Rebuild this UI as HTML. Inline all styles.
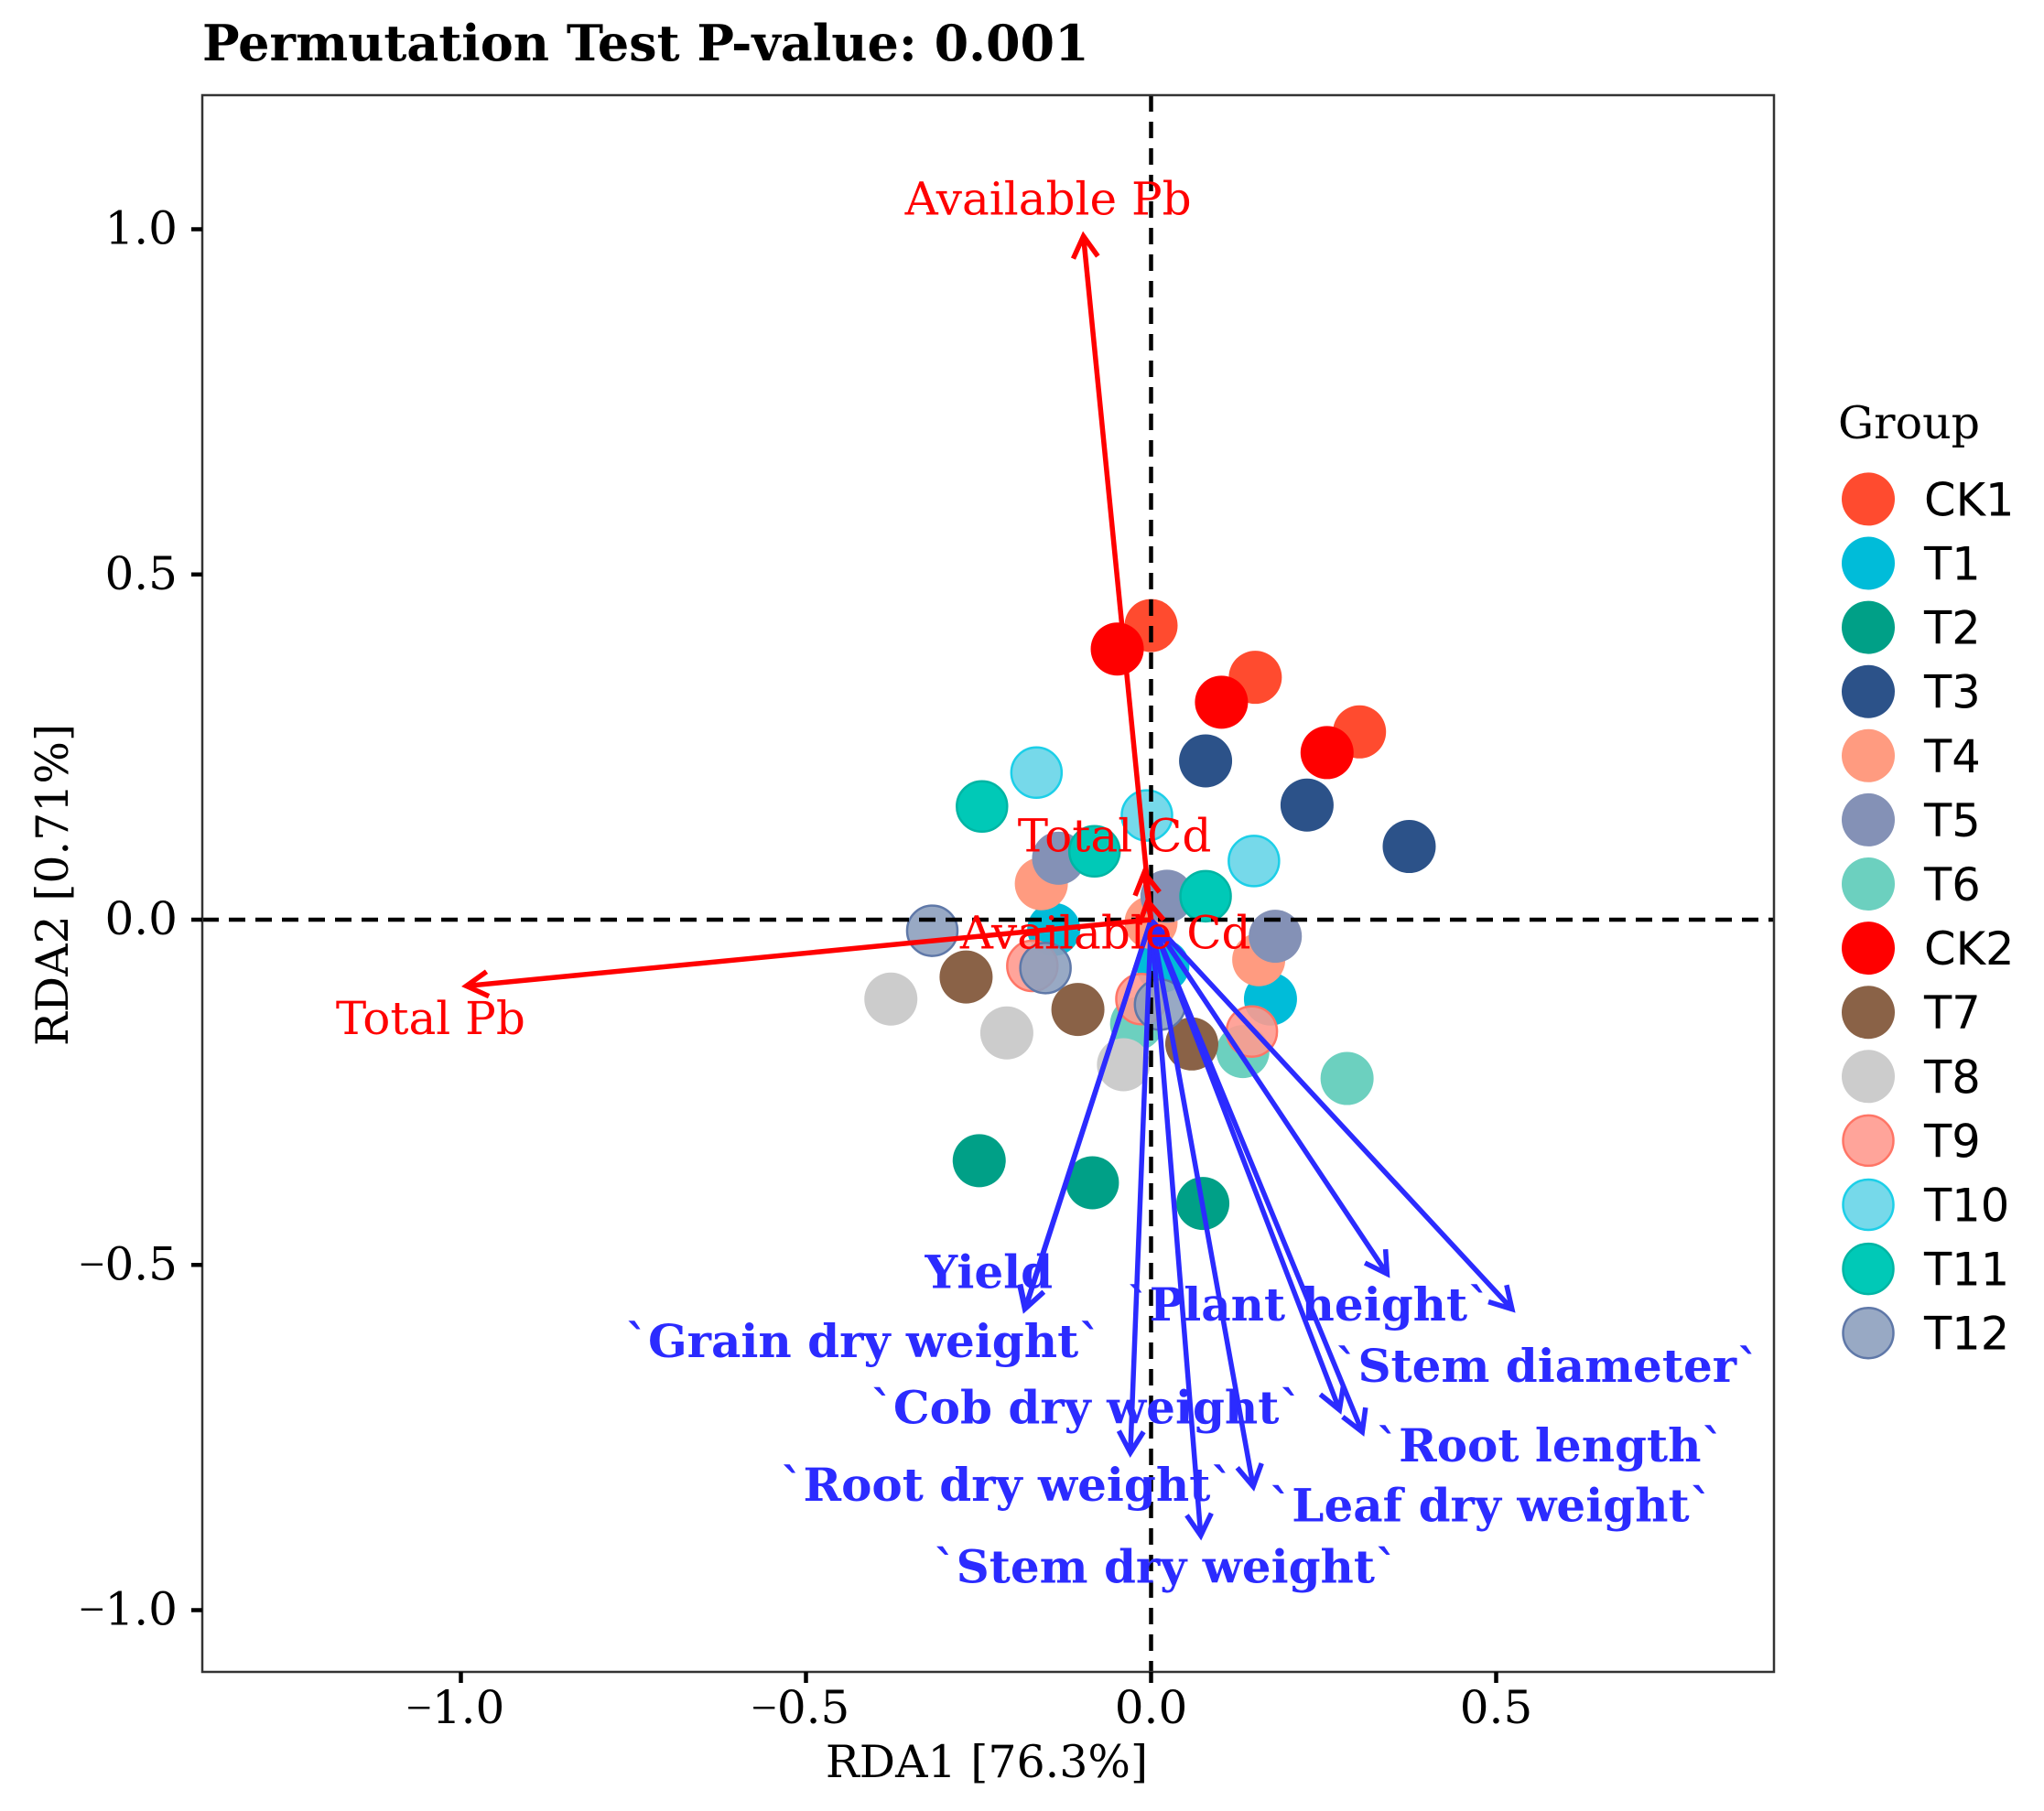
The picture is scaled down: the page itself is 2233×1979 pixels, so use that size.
<!DOCTYPE html>
<html lang="en">
<head>
<meta charset="utf-8">
<title>RDA biplot</title>
<style>
html,body{margin:0;padding:0;background:#fff;}
svg{display:block;}
text{font-family:"DejaVu Serif","Liberation Serif",serif;}
.sans{font-family:"DejaVu Sans","Liberation Sans",sans-serif;}
</style>
</head>
<body>
<svg id="chart" xmlns="http://www.w3.org/2000/svg" width="2233" height="1979" viewBox="0 0 2233 1979">
  <rect x="0" y="0" width="2233" height="1979" fill="#ffffff"/>
  <text x="221" y="66" font-size="54" font-weight="700" fill="#000">Permutation Test P-value: 0.001</text>
  <text x="1078" y="1942" font-size="49" text-anchor="middle" fill="#000">RDA1 [76.3%]</text>
  <text transform="translate(74,967) rotate(-90)" font-size="49" text-anchor="middle" fill="#000">RDA2 [0.71%]</text>
  <text x="2008" y="479" font-size="49" fill="#000">Group</text>
  <g id="points"></g>
  <g id="refs"></g>
  <g id="arrows"></g>
  <g id="labels"></g>
  <rect x="221" y="104" width="1717" height="1723" fill="none" stroke="#333333" stroke-width="2.5"/>
  <g id="ticks"></g>
  <g id="legend"></g>
</svg>
<script>
// Group categories
const groupNames = ["CK1","T1","T2","T3","T4","T5","T6","CK2","T7","T8","T9","T10","T11","T12"];

// Sample scores per group (RDA1 / RDA2)
const ck1X = [0.000, 0.151, 0.302];
const ck1Y = [0.426, 0.351, 0.272];
const t1X = [-0.141, 0.017, 0.173];
const t1Y = [-0.014, -0.067, -0.115];
const t2X = [-0.249, -0.085, 0.075];
const t2Y = [-0.349, -0.381, -0.411];
const t3X = [0.079, 0.226, 0.374];
const t3Y = [0.230, 0.166, 0.106];
const t4X = [-0.159, 0.000, 0.156];
const t4Y = [0.052, -0.004, -0.058];
const t5X = [-0.134, 0.023, 0.180];
const t5Y = [0.089, 0.034, -0.024];
const t6X = [-0.021, 0.133, 0.284];
const t6Y = [-0.151, -0.191, -0.230];
const ck2X = [-0.049, 0.102, 0.255];
const ck2Y = [0.392, 0.315, 0.242];
const t7X = [-0.268, -0.106, 0.059];
const t7Y = [-0.083, -0.130, -0.180];
const t8X = [-0.377, -0.209, -0.040];
const t8Y = [-0.115, -0.164, -0.210];
const t9X = [-0.172, -0.014, 0.146];
const t9Y = [-0.067, -0.115, -0.162];
const t10X = [-0.166, -0.006, 0.149];
const t10Y = [0.213, 0.151, 0.085];
const t11X = [-0.245, -0.082, 0.079];
const t11Y = [0.164, 0.099, 0.034];
const t12X = [-0.317, -0.153, 0.013];
const t12Y = [-0.016, -0.070, -0.123];

// Environmental loadings (red)
const envNames = ["Available Pb","Total Cd","Available Cd","Total Pb"];
const envX = [-0.098, -0.010, -0.005, -0.992];
const envY = [0.990, 0.068, 0.027, -0.096];
const envLabelX = [-0.149, -0.053, -0.066, -1.044];
const envLabelY = [1.042, 0.119, -0.021, -0.145];

// Trait loadings (blue)
const traitNames = ["Yield","`Grain dry weight`","`Cob dry weight`","`Root dry weight`","`Stem dry weight`","`Leaf dry weight`","`Root length`","`Stem diameter`","`Plant height`"];
const traitX = [-0.183, -0.182, -0.030, 0.072, 0.148, 0.273, 0.306, 0.523, 0.342];
const traitY = [-0.564, -0.563, -0.772, -0.892, -0.821, -0.710, -0.742, -0.564, -0.513];
const traitLabelX = [-0.235, -0.417, -0.094, -0.209, 0.021, 0.492, 0.578, 0.574, 0.228];
const traitLabelY = [-0.513, -0.613, -0.709, -0.821, -0.940, -0.851, -0.764, -0.649, -0.560];

// Axis ticks
const xTickValues = [-1.0, -0.5, 0.0, 0.5];
const yTickValues = [-1.0, -0.5, 0.0, 0.5, 1.0];
const xTickLabels = ["\u22121.0","\u22120.5","0.0","0.5"];
const yTickLabels = ["\u22121.0","\u22120.5","0.0","0.5","1.0"];

const seriesX = [ck1X,t1X,t2X,t3X,t4X,t5X,t6X,ck2X,t7X,t8X,t9X,t10X,t11X,t12X];
const seriesY = [ck1Y,t1Y,t2Y,t3Y,t4Y,t5Y,t6Y,ck2Y,t7Y,t8Y,t9Y,t10Y,t11Y,t12Y];

const groupFill = {CK1:"#FF4B2F",T1:"#00BCD9",T2:"#00A087",T3:"#2C5289",T4:"#FF9B80",T5:"#8491B6",T6:"#6CD0BF",CK2:"#FF0000",T7:"#8A6247",T8:"#CCCCCC",T9:"#FF9A8F",T10:"#76D9EA",T11:"#00C9B7",T12:"#8DA0BE"};
const groupStroke = {T9:"#FF7566",T10:"#1CCFE8",T11:"#00B5A4",T12:"#5F78A8"};
const groupOpacity = {T9:0.9,T10:1,T11:1,T12:0.9};

const NS = "http://www.w3.org/2000/svg";
function sx(v){ return 1257.5 + 754 * v; }
function sy(v){ return 1005 - 754.5 * v; }
function make(tag, attrs, parent){
  const el = document.createElementNS(NS, tag);
  for (const k in attrs) el.setAttribute(k, attrs[k]);
  parent.appendChild(el);
  return el;
}
function slug(s){ return s.replace(/[`]/g,"").trim().toLowerCase().replace(/\s+/g,"-"); }
function markerRadius(name){ return groupStroke[name] ? 27.5 : 29; }

// Tick label text: the minus sign is drawn in the narrower serif face
function fillTickText(t, label){
  if (label.charAt(0) === "\u2212") {
    const m = make("tspan", {"font-family":"Liberation Serif"}, t);
    m.textContent = "\u2212";
    const rest = make("tspan", {}, t);
    rest.textContent = label.slice(1);
  } else {
    t.textContent = label;
  }
}

const pointsG = document.getElementById("points");
const refsG = document.getElementById("refs");
const arrowsG = document.getElementById("arrows");
const labelsG = document.getElementById("labels");
const ticksG = document.getElementById("ticks");
const legendG = document.getElementById("legend");

function drawMarker(parent, cx, cy, name){
  const st = groupStroke[name];
  const c = make("circle", {cx:cx, cy:cy, r:markerRadius(name), fill:groupFill[name]}, parent);
  if (st) {
    c.setAttribute("stroke", st);
    c.setAttribute("stroke-width", 2.5);
    c.setAttribute("fill-opacity", groupOpacity[name]);
  }
  return c;
}

// Points
groupNames.forEach(function(name, g){
  seriesX[g].forEach(function(x, i){
    const c = drawMarker(pointsG, sx(x), sy(seriesY[g][i]), name);
    
    
  });
});

// Reference lines
const hLine = make("line", {x1:221, x2:1938, y1:sy(0), y2:sy(0), stroke:"#000", "stroke-width":4.5, "stroke-dasharray":"18 11"}, refsG);


const vLine = make("line", {x1:sx(0), x2:sx(0), y1:104, y2:1827, stroke:"#000", "stroke-width":4.5, "stroke-dasharray":"18 11"}, refsG);



// Arrows
function arrowPath(x, y){
  const x0 = sx(0), y0 = sy(0), x1 = sx(x), y1 = sy(y);
  const a = Math.atan2(y1 - y0, x1 - x0), h = 27, w = Math.PI / 6;
  const bx1 = x1 - h * Math.cos(a - w), by1 = y1 - h * Math.sin(a - w);
  const bx2 = x1 - h * Math.cos(a + w), by2 = y1 - h * Math.sin(a + w);
  return "M" + x0 + " " + y0 + "L" + x1 + " " + y1 + "M" + bx1 + " " + by1 + "L" + x1 + " " + y1 + "L" + bx2 + " " + by2;
}
traitNames.forEach(function(n, i){
  const p = make("path", {d:arrowPath(traitX[i], traitY[i]), fill:"none", stroke:"#2B2BFF", "stroke-width":5.5, "stroke-linejoin":"miter"}, arrowsG);
  
  
});
envNames.forEach(function(n, i){
  const p = make("path", {d:arrowPath(envX[i], envY[i]), fill:"none", stroke:"#FF0000", "stroke-width":5.5, "stroke-linejoin":"miter"}, arrowsG);
  
  
});

// Labels
traitNames.forEach(function(n, i){
  const t = make("text", {x:sx(traitLabelX[i]), y:sy(traitLabelY[i]) + 15.5, "text-anchor":"middle", "font-size":50, "font-weight":700, fill:"#2B2BFF"}, labelsG);
  t.textContent = n;
  
  
});
envNames.forEach(function(n, i){
  const t = make("text", {x:sx(envLabelX[i]), y:sy(envLabelY[i]) + 15.5, "text-anchor":"middle", "font-size":50, fill:"#FF0000"}, labelsG);
  t.textContent = n;
  
  
});

// Ticks
xTickValues.forEach(function(v, i){
  const l = make("line", {x1:sx(v), x2:sx(v), y1:1827, y2:1839, stroke:"#000", "stroke-width":4.5}, ticksG);
  
  
  const shift = xTickLabels[i].charAt(0) === "\u2212" ? -6 : 0;
  const t = make("text", {x:sx(v) + shift, y:1883, "text-anchor":"middle", "font-size":50, fill:"#000"}, ticksG);
  fillTickText(t, xTickLabels[i]);
  
  
});
yTickValues.forEach(function(v, i){
  const l = make("line", {x1:209, x2:221, y1:sy(v), y2:sy(v), stroke:"#000", "stroke-width":4.5}, ticksG);
  
  
  const t = make("text", {x:194, y:sy(v) + 16, "text-anchor":"end", "font-size":50, fill:"#000"}, ticksG);
  fillTickText(t, yTickLabels[i]);
  
  
});

// Legend
groupNames.forEach(function(name, i){
  const cy = 545.4 + 70.1 * i;
  const c = drawMarker(legendG, 2041, cy, name);
  
  
  const t = make("text", {x:2102, y:cy + 18, "font-size":49.5, fill:"#000", class:"sans"}, legendG);
  t.textContent = name;
  
  
});
</script>
</body>
</html>
